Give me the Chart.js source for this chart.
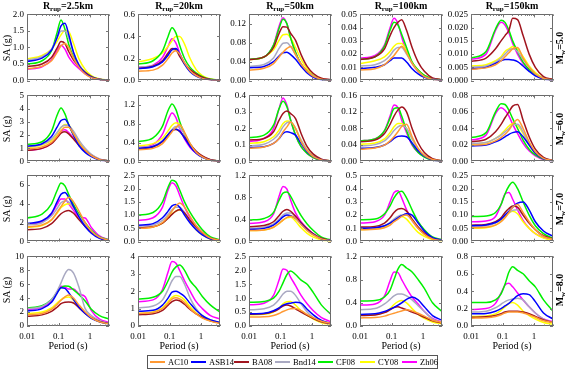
<!DOCTYPE html>
<html>
<head>
<meta charset="utf-8">
<script src="https://cdn.jsdelivr.net/npm/chart.js@4.4.1/dist/chart.umd.min.js"></script>
<style>
  html, body { margin: 0; padding: 0; background: #fff; }
  body { width: 567px; height: 371px; position: relative; overflow: hidden; font-family: "Liberation Serif", "Times New Roman", serif; color: #000; }
  canvas { position: absolute; }
  .txt { position: absolute; white-space: nowrap; line-height: 1; }
  .coltitle { font-weight: bold; font-size: 10px; transform: translateX(-50%); }
  .coltitle sub, .mlab sub { font-size: 7px; vertical-align: -2px; }
  .ylab { font-size: 10px; transform: translate(-50%, -50%) rotate(-90deg); }
  .mlab { font-weight: bold; font-size: 10px; transform: translate(-50%, -50%) rotate(-90deg); }
  .xlab { font-size: 10px; transform: translateX(-50%); }
  #legend { position: absolute; left: 147px; top: 355px; width: 291px; height: 14px; border: 1px solid #555; box-sizing: border-box; }
  .litem { position: absolute; top: 0; height: 12px; display: flex; align-items: center; font-size: 8.5px; white-space: nowrap; }
  .lline { width: 15px; height: 1.5px; margin-right: 3px; flex: none; }
</style>
</head>
<body>
<script>
// ---- data ----
const periods = [0.01, 0.03, 0.06, 0.09, 0.12, 0.16, 0.21, 0.3, 0.45, 0.7, 1.1, 2, 4];
const xTickValues = [0.01, 0.1, 1];
const models = ['AC10', 'ASB14', 'BA08', 'Bnd14', 'CF08', 'CY08', 'Zh06'];
const magnitudes = ['5.0', '6.0', '7.0', '8.0'];
const distances = ['2.5', '20', '50', '100', '150'];
const yMax = [[2, 0.6, 0.14, 0.05, 0.025], [5, 1.4, 0.4, 0.16, 0.08], [7, 2.5, 1.2, 0.5, 0.25], [10, 4, 2.5, 1.2, 0.8]];
const yStep = [[0.5, 0.1, 0.02, 0.01, 0.005], [1, 0.2, 0.1, 0.02, 0.02], [1, 0.5, 0.2, 0.1, 0.05], [2, 1, 0.5, 0.2, 0.2]];

// each model: 20 panels, order Mw5.0 (R 2.5,20,50,100,150), Mw6.0 ..., Mw7.0 ..., Mw8.0 ...
const AC10 = [
  [0.36,0.43,0.6,0.85,1.05,1.12,1.0,0.68,0.4,0.2,0.09,0.03,0.01],
  [0.085,0.095,0.14,0.2,0.25,0.27,0.24,0.16,0.09,0.045,0.02,0.007,0.002],
  [0.022,0.026,0.036,0.05,0.06,0.068,0.072,0.055,0.035,0.02,0.009,0.003,0.001],
  [0.008,0.009,0.012,0.016,0.019,0.023,0.026,0.021,0.013,0.007,0.003,0.001,0.0004],
  [0.0043,0.0048,0.006,0.0075,0.009,0.0105,0.012,0.0125,0.0085,0.005,0.0025,0.0008,0.0003],
  [0.95,1.1,1.45,1.9,2.3,2.6,2.6,2.1,1.4,0.85,0.45,0.15,0.04],
  [0.25,0.28,0.38,0.52,0.63,0.72,0.78,0.62,0.38,0.2,0.1,0.03,0.01],
  [0.08,0.088,0.11,0.14,0.18,0.21,0.24,0.2,0.12,0.065,0.03,0.01,0.003],
  [0.03,0.033,0.04,0.05,0.06,0.072,0.085,0.09,0.06,0.032,0.015,0.005,0.0015],
  [0.02,0.021,0.025,0.029,0.033,0.038,0.045,0.051,0.04,0.024,0.012,0.004,0.0012],
  [1.55,1.75,2.3,3.1,3.7,4.3,4.7,4.2,3.2,2.0,1.1,0.45,0.15],
  [0.5,0.55,0.72,0.95,1.15,1.35,1.46,1.3,0.95,0.6,0.35,0.13,0.05],
  [0.2,0.21,0.26,0.33,0.39,0.44,0.46,0.42,0.31,0.2,0.12,0.05,0.015],
  [0.09,0.093,0.105,0.125,0.15,0.17,0.19,0.2,0.16,0.1,0.055,0.02,0.008],
  [0.052,0.054,0.062,0.075,0.09,0.11,0.13,0.14,0.11,0.075,0.045,0.02,0.008],
  [1.6,1.8,2.4,3.1,3.7,4.2,4.45,4.0,3.0,2.0,1.2,0.6,0.3],
  [0.72,0.78,1.0,1.3,1.55,1.62,1.55,1.35,1.0,0.7,0.45,0.28,0.15],
  [0.32,0.33,0.38,0.45,0.52,0.58,0.62,0.63,0.55,0.42,0.3,0.17,0.1],
  [0.14,0.145,0.17,0.2,0.22,0.24,0.26,0.28,0.26,0.22,0.17,0.1,0.06],
  [0.09,0.095,0.11,0.13,0.15,0.16,0.16,0.16,0.15,0.13,0.1,0.06,0.04]
];
const ASB14 = [
  [0.58,0.68,0.92,1.3,1.65,1.73,1.4,0.85,0.45,0.22,0.1,0.03,0.01],
  [0.11,0.125,0.17,0.23,0.28,0.29,0.24,0.15,0.08,0.04,0.02,0.007,0.002],
  [0.027,0.03,0.04,0.052,0.059,0.06,0.055,0.045,0.03,0.016,0.007,0.002,0.001],
  [0.009,0.01,0.012,0.015,0.017,0.017,0.017,0.014,0.009,0.005,0.0025,0.001,0.0003],
  [0.0045,0.005,0.0065,0.0075,0.008,0.008,0.0078,0.0072,0.0055,0.0035,0.0018,0.0006,0.0002],
  [1.15,1.35,1.9,2.6,3.1,3.2,2.8,2.0,1.2,0.7,0.38,0.12,0.04],
  [0.28,0.32,0.43,0.57,0.66,0.69,0.64,0.5,0.32,0.18,0.09,0.03,0.008],
  [0.085,0.09,0.11,0.14,0.17,0.18,0.175,0.16,0.11,0.06,0.03,0.01,0.003],
  [0.032,0.034,0.04,0.048,0.056,0.061,0.062,0.06,0.045,0.026,0.013,0.004,0.0012],
  [0.019,0.02,0.024,0.027,0.03,0.033,0.035,0.036,0.03,0.02,0.01,0.0035,0.001],
  [1.9,2.2,3.0,4.2,5.0,5.2,4.7,3.7,2.6,1.6,0.9,0.35,0.12],
  [0.62,0.68,0.9,1.15,1.35,1.4,1.3,1.0,0.7,0.45,0.25,0.1,0.04],
  [0.22,0.24,0.3,0.38,0.45,0.48,0.47,0.42,0.32,0.21,0.13,0.05,0.02],
  [0.1,0.105,0.12,0.14,0.16,0.18,0.195,0.21,0.2,0.14,0.08,0.03,0.012],
  [0.06,0.063,0.072,0.085,0.1,0.115,0.13,0.145,0.15,0.12,0.075,0.04,0.02],
  [2.15,2.5,3.4,4.7,5.5,5.4,4.8,3.8,2.7,1.8,1.1,0.6,0.3],
  [0.85,0.9,1.2,1.6,1.95,2.0,1.9,1.7,1.3,0.9,0.6,0.35,0.2],
  [0.44,0.46,0.55,0.65,0.75,0.8,0.82,0.85,0.82,0.6,0.4,0.2,0.1],
  [0.2,0.21,0.25,0.29,0.32,0.36,0.4,0.46,0.5,0.45,0.33,0.18,0.1],
  [0.14,0.145,0.17,0.2,0.23,0.26,0.3,0.35,0.37,0.36,0.28,0.15,0.08]
];
const BA08 = [
  [0.42,0.5,0.7,0.98,1.18,1.12,0.88,0.62,0.42,0.25,0.12,0.04,0.01],
  [0.11,0.13,0.18,0.25,0.29,0.28,0.22,0.15,0.1,0.06,0.03,0.01,0.003],
  [0.044,0.05,0.07,0.1,0.114,0.113,0.1,0.085,0.055,0.03,0.015,0.005,0.002],
  [0.016,0.018,0.024,0.034,0.04,0.044,0.046,0.038,0.025,0.014,0.007,0.002,0.0008],
  [0.0072,0.0085,0.012,0.015,0.017,0.019,0.0235,0.023,0.017,0.01,0.005,0.0015,0.0005],
  [0.85,1.0,1.35,1.8,2.15,2.25,2.1,1.7,1.2,0.8,0.45,0.15,0.05],
  [0.27,0.31,0.42,0.56,0.65,0.68,0.64,0.52,0.36,0.22,0.12,0.04,0.012],
  [0.13,0.14,0.18,0.25,0.29,0.305,0.29,0.26,0.17,0.09,0.045,0.015,0.005],
  [0.048,0.052,0.068,0.09,0.11,0.125,0.132,0.12,0.08,0.045,0.022,0.007,0.002],
  [0.024,0.027,0.036,0.045,0.053,0.06,0.067,0.069,0.05,0.03,0.015,0.005,0.0015],
  [1.25,1.4,1.9,2.5,2.95,3.2,3.3,3.0,2.3,1.6,1.0,0.4,0.13],
  [0.52,0.56,0.7,0.88,1.03,1.15,1.2,1.08,0.8,0.55,0.33,0.13,0.05],
  [0.27,0.29,0.36,0.47,0.55,0.58,0.55,0.46,0.34,0.23,0.14,0.06,0.02],
  [0.11,0.115,0.14,0.18,0.22,0.245,0.25,0.23,0.17,0.11,0.065,0.025,0.01],
  [0.062,0.065,0.075,0.09,0.11,0.125,0.134,0.13,0.1,0.07,0.045,0.022,0.01],
  [1.4,1.6,2.1,2.7,3.2,3.4,3.45,3.3,2.6,1.8,1.2,0.65,0.35],
  [0.65,0.7,0.9,1.2,1.4,1.5,1.45,1.25,0.95,0.7,0.5,0.3,0.18],
  [0.42,0.44,0.52,0.62,0.72,0.75,0.72,0.62,0.5,0.38,0.27,0.15,0.08],
  [0.18,0.19,0.23,0.28,0.32,0.33,0.31,0.28,0.24,0.2,0.15,0.09,0.05],
  [0.1,0.105,0.12,0.14,0.16,0.17,0.17,0.17,0.16,0.14,0.11,0.07,0.04]
];
const Bnd14 = [
  [0.62,0.72,0.95,1.28,1.5,1.5,1.28,0.85,0.48,0.26,0.12,0.04,0.015],
  [0.12,0.135,0.18,0.24,0.28,0.28,0.24,0.16,0.09,0.05,0.025,0.008,0.003],
  [0.03,0.034,0.048,0.068,0.079,0.08,0.072,0.055,0.035,0.02,0.01,0.003,0.001],
  [0.011,0.012,0.015,0.019,0.023,0.025,0.025,0.02,0.013,0.007,0.003,0.001,0.0004],
  [0.005,0.0055,0.007,0.0085,0.01,0.0115,0.012,0.011,0.008,0.005,0.0025,0.001,0.0003],
  [1.1,1.3,1.7,2.2,2.6,2.75,2.7,2.3,1.6,1.0,0.55,0.2,0.06],
  [0.3,0.33,0.45,0.58,0.68,0.74,0.72,0.58,0.38,0.22,0.11,0.04,0.012],
  [0.095,0.105,0.135,0.17,0.21,0.235,0.24,0.2,0.13,0.07,0.035,0.012,0.004],
  [0.038,0.041,0.05,0.063,0.075,0.084,0.087,0.08,0.055,0.03,0.015,0.005,0.0015],
  [0.022,0.023,0.028,0.032,0.036,0.04,0.044,0.045,0.036,0.022,0.011,0.004,0.0012],
  [1.75,2.0,2.7,3.5,4.1,4.3,4.2,3.6,2.7,1.8,1.1,0.45,0.15],
  [0.58,0.63,0.8,1.02,1.2,1.3,1.3,1.1,0.8,0.5,0.3,0.12,0.04],
  [0.24,0.26,0.32,0.41,0.48,0.52,0.52,0.45,0.33,0.22,0.13,0.05,0.02],
  [0.1,0.105,0.12,0.145,0.17,0.19,0.2,0.2,0.16,0.1,0.06,0.025,0.01],
  [0.058,0.06,0.07,0.085,0.1,0.11,0.118,0.12,0.1,0.07,0.045,0.02,0.008],
  [2.5,2.8,3.8,5.0,6.2,7.5,8.1,7.6,5.5,2.5,1.5,0.8,0.4],
  [1.05,1.15,1.5,2.1,2.6,2.85,2.85,2.4,1.6,1.0,0.6,0.35,0.2],
  [0.58,0.62,0.75,0.95,1.15,1.25,1.25,1.1,0.8,0.5,0.3,0.15,0.08],
  [0.28,0.3,0.38,0.46,0.52,0.55,0.55,0.52,0.45,0.35,0.25,0.12,0.06],
  [0.16,0.17,0.21,0.25,0.28,0.3,0.31,0.32,0.3,0.22,0.15,0.08,0.04]
];
const CF08 = [
  [0.5,0.6,0.9,1.45,1.83,1.55,1.1,0.72,0.45,0.26,0.13,0.04,0.01],
  [0.15,0.18,0.27,0.4,0.48,0.43,0.32,0.2,0.12,0.07,0.035,0.012,0.004],
  [0.045,0.05,0.075,0.11,0.13,0.12,0.09,0.06,0.035,0.02,0.01,0.003,0.001],
  [0.016,0.018,0.026,0.038,0.044,0.042,0.035,0.025,0.014,0.008,0.004,0.0015,0.0005],
  [0.0085,0.011,0.0195,0.0228,0.022,0.019,0.015,0.011,0.007,0.0042,0.0022,0.0008,0.0003],
  [1.3,1.5,2.3,3.5,4.05,3.6,2.8,2.0,1.3,0.8,0.45,0.15,0.05],
  [0.42,0.5,0.75,1.08,1.22,1.1,0.85,0.58,0.35,0.2,0.1,0.035,0.01],
  [0.145,0.16,0.22,0.32,0.365,0.33,0.25,0.16,0.09,0.05,0.025,0.008,0.003],
  [0.05,0.055,0.075,0.105,0.128,0.13,0.11,0.075,0.042,0.022,0.011,0.004,0.0015],
  [0.029,0.035,0.06,0.07,0.069,0.062,0.052,0.04,0.026,0.015,0.008,0.003,0.001],
  [2.5,2.9,4.0,5.4,6.2,5.9,5.0,3.9,2.9,2.0,1.2,0.5,0.2],
  [1.0,1.1,1.5,2.05,2.32,2.25,1.95,1.5,1.1,0.75,0.45,0.18,0.07],
  [0.39,0.42,0.53,0.75,0.88,0.9,0.82,0.65,0.47,0.32,0.2,0.08,0.03],
  [0.165,0.17,0.21,0.27,0.33,0.37,0.38,0.33,0.24,0.15,0.09,0.035,0.015],
  [0.095,0.097,0.11,0.14,0.18,0.21,0.224,0.2,0.15,0.1,0.06,0.03,0.012],
  [2.6,2.9,3.8,4.8,5.5,5.75,5.7,5.2,4.5,3.6,2.4,1.5,1.0],
  [1.55,1.65,2.0,2.6,3.1,3.4,3.5,3.2,2.6,2.2,1.7,1.2,0.8],
  [0.85,0.88,1.0,1.25,1.55,1.85,1.98,1.85,1.65,1.5,1.2,0.75,0.42],
  [0.43,0.44,0.5,0.62,0.8,0.98,1.06,1.0,0.93,0.8,0.65,0.4,0.25],
  [0.27,0.27,0.3,0.37,0.48,0.62,0.68,0.64,0.6,0.52,0.45,0.3,0.17]
];
const CY08 = [
  [0.65,0.76,0.95,1.18,1.38,1.52,1.48,1.12,0.65,0.34,0.15,0.05,0.015],
  [0.17,0.2,0.25,0.31,0.36,0.4,0.4,0.33,0.2,0.1,0.045,0.015,0.004],
  [0.044,0.05,0.065,0.085,0.097,0.098,0.09,0.07,0.045,0.025,0.012,0.004,0.001],
  [0.013,0.015,0.018,0.022,0.026,0.028,0.028,0.022,0.014,0.008,0.004,0.0015,0.0005],
  [0.0055,0.006,0.0075,0.009,0.011,0.012,0.0128,0.012,0.009,0.0055,0.003,0.001,0.0003],
  [1.05,1.25,1.6,2.1,2.55,2.8,2.75,2.2,1.5,0.9,0.5,0.17,0.05],
  [0.33,0.38,0.5,0.65,0.77,0.82,0.78,0.6,0.38,0.2,0.1,0.035,0.01],
  [0.11,0.12,0.15,0.19,0.23,0.245,0.24,0.2,0.13,0.07,0.035,0.012,0.004],
  [0.042,0.045,0.055,0.07,0.084,0.092,0.092,0.08,0.055,0.03,0.015,0.005,0.0015],
  [0.021,0.023,0.028,0.033,0.038,0.043,0.046,0.044,0.034,0.02,0.01,0.0035,0.001],
  [1.5,1.7,2.3,3.0,3.6,3.9,4.0,3.6,2.7,1.7,1.0,0.4,0.12],
  [0.5,0.55,0.7,0.9,1.05,1.15,1.2,1.05,0.75,0.45,0.25,0.09,0.03],
  [0.2,0.21,0.26,0.33,0.39,0.43,0.44,0.37,0.25,0.15,0.08,0.03,0.01],
  [0.09,0.095,0.11,0.14,0.16,0.18,0.19,0.17,0.12,0.07,0.04,0.015,0.006],
  [0.05,0.052,0.062,0.078,0.095,0.108,0.115,0.105,0.075,0.05,0.03,0.013,0.005],
  [1.8,2.0,2.6,3.3,3.8,4.1,4.15,3.7,2.8,1.9,1.2,0.6,0.3],
  [0.72,0.8,1.05,1.4,1.65,1.75,1.7,1.5,1.1,0.75,0.5,0.3,0.18],
  [0.4,0.42,0.5,0.65,0.8,0.87,0.88,0.75,0.55,0.38,0.25,0.12,0.06],
  [0.19,0.2,0.24,0.3,0.37,0.42,0.44,0.4,0.3,0.2,0.13,0.07,0.04],
  [0.11,0.115,0.14,0.18,0.22,0.26,0.27,0.24,0.17,0.12,0.08,0.04,0.02]
];
const Zh06 = [
  [0.34,0.42,0.62,0.9,1.07,0.95,0.72,0.52,0.36,0.2,0.1,0.03,0.01],
  [0.12,0.14,0.21,0.31,0.38,0.34,0.25,0.16,0.1,0.06,0.03,0.01,0.003],
  [0.045,0.05,0.075,0.115,0.133,0.12,0.09,0.06,0.035,0.02,0.01,0.004,0.001],
  [0.017,0.019,0.027,0.04,0.047,0.043,0.033,0.022,0.013,0.007,0.004,0.0015,0.0005],
  [0.008,0.01,0.019,0.022,0.021,0.018,0.014,0.01,0.0065,0.004,0.002,0.0008,0.0003],
  [0.85,1.0,1.4,1.9,2.3,2.4,2.2,1.8,1.3,0.85,0.5,0.18,0.05],
  [0.3,0.36,0.58,0.88,1.03,0.93,0.7,0.48,0.3,0.18,0.1,0.035,0.01],
  [0.12,0.14,0.2,0.32,0.385,0.34,0.25,0.16,0.09,0.05,0.025,0.008,0.003],
  [0.05,0.055,0.075,0.11,0.137,0.13,0.1,0.07,0.04,0.022,0.012,0.004,0.0015],
  [0.026,0.032,0.058,0.065,0.062,0.055,0.045,0.034,0.022,0.013,0.007,0.0025,0.001],
  [1.85,2.1,2.9,3.9,4.5,4.5,4.0,3.3,2.6,2.5,1.5,0.6,0.2],
  [0.8,0.9,1.3,1.95,2.22,2.1,1.75,1.3,0.9,0.6,0.35,0.14,0.05],
  [0.33,0.36,0.5,0.82,1.0,0.95,0.75,0.52,0.36,0.24,0.14,0.06,0.02],
  [0.14,0.15,0.2,0.3,0.37,0.385,0.33,0.24,0.16,0.1,0.06,0.025,0.01],
  [0.075,0.078,0.095,0.14,0.18,0.185,0.16,0.12,0.08,0.05,0.03,0.015,0.006],
  [2.4,2.7,3.6,4.9,5.7,5.6,5.3,5.3,4.6,4.2,2.2,1.0,0.5],
  [1.4,1.5,2.1,3.1,3.7,3.6,3.2,2.6,2.0,1.4,1.0,0.6,0.4],
  [0.76,0.82,1.1,1.65,2.05,2.0,1.75,1.45,1.1,0.8,0.55,0.3,0.15],
  [0.36,0.38,0.52,0.78,0.93,0.92,0.8,0.65,0.5,0.38,0.25,0.13,0.07],
  [0.19,0.2,0.26,0.38,0.47,0.49,0.45,0.38,0.3,0.22,0.15,0.08,0.05]
];
const seriesByModel = [AC10, ASB14, BA08, Bnd14, CF08, CY08, Zh06];

// ---- styles / layout ----
const modelColors = ['#FF9933', '#0000FF', '#A0141E', '#A9A9C2', '#00F000', '#FFFF00', '#FF00FF'];
const boxLeft = [27, 138, 249, 360, 471];
const boxTop = [12, 93, 173, 254];
const boxH = [71, 71, 71, 72];
const boxW = 82;
const yAxisW = 27, padT = 6, padR = 6, padB = 6, xAxisH = 18;
const legendItemLeft = [2, 43, 86, 127, 170, 212, 254];
const FONT = "'Liberation Serif', 'Times New Roman', serif";

function decimalsOf(step) {
  const s = String(step);
  return s.includes('.') ? s.split('.')[1].length : 0;
}

const framePlugin = {
  id: 'frame',
  afterDatasetsDraw(chart) {
    const { ctx, chartArea: a, scales } = chart;
    const x = scales.x, y = scales.y;
    ctx.save();
    ctx.strokeStyle = '#6a6a6a';
    ctx.lineWidth = 1;
    ctx.strokeRect(Math.round(a.left) + 0.5, Math.round(a.top) + 0.5, Math.round(a.right - a.left) - 1, Math.round(a.bottom - a.top) - 1);
    ctx.strokeStyle = '#777';
    ctx.beginPath();
    for (const d of xTickValues) {
      for (let m = 1; m < 10; m++) {
        const v = d * m;
        if (v > x.max) break;
        const px = Math.round(x.getPixelForValue(v)) + 0.5;
        const L = m === 1 ? 3 : 1.5;
        ctx.moveTo(px, a.top); ctx.lineTo(px, a.top + L);
        ctx.moveTo(px, a.bottom); ctx.lineTo(px, a.bottom - L);
      }
    }
    y.ticks.forEach(t => {
      const py = Math.round(y.getPixelForValue(t.value)) + 0.5;
      ctx.moveTo(a.left, py); ctx.lineTo(a.left + 3, py);
      ctx.moveTo(a.right, py); ctx.lineTo(a.right - 3, py);
    });
    ctx.stroke();
    ctx.restore();
  }
};

function addText(cls, html, left, top) {
  const d = document.createElement('div');
  d.className = 'txt ' + cls;
  d.innerHTML = html;
  d.style.left = left + 'px';
  d.style.top = top + 'px';
  document.body.appendChild(d);
  return d;
}

for (let r = 0; r < 4; r++) {
  for (let c = 0; c < 5; c++) {
    const p = r * 5 + c;
    const bottomRow = r === 3;
    const cv = document.createElement('canvas');
    const W = yAxisW + boxW + padR;
    const H = padT + boxH[r] + (bottomRow ? xAxisH : padB);
    cv.width = W; cv.height = H;
    cv.style.width = W + 'px'; cv.style.height = H + 'px';
    cv.style.left = (boxLeft[c] - yAxisW) + 'px';
    cv.style.top = (boxTop[r] - padT) + 'px';
    document.body.appendChild(cv);
    const dec = decimalsOf(yStep[r][c]);
    new Chart(cv, {
      type: 'line',
      data: {
        datasets: models.map((m, i) => ({
          label: m,
          data: periods.map((t, k) => ({ x: t, y: seriesByModel[i][p][k] })),
          borderColor: modelColors[i],
          borderWidth: 1.5,
          pointRadius: 0,
          fill: false,
          cubicInterpolationMode: 'monotone'
        }))
      },
      options: {
        responsive: false,
        animation: false,
        devicePixelRatio: 1,
        events: [],
        layout: { padding: { left: 0, top: padT, right: padR, bottom: bottomRow ? 0 : padB } },
        plugins: { legend: { display: false }, tooltip: { enabled: false } },
        scales: {
          x: {
            type: 'logarithmic',
            min: 0.01,
            max: 4,
            afterBuildTicks(s) { s.ticks = xTickValues.map(v => ({ value: v, major: true })); },
            afterFit(s) { s.height = bottomRow ? xAxisH : 0; },
            grid: { display: false, drawTicks: false },
            border: { display: false },
            ticks: {
              display: bottomRow,
              autoSkip: false,
              maxRotation: 0,
              padding: 5,
              color: '#000',
              font: { family: FONT, size: 9 },
              callback: v => String(v)
            }
          },
          y: {
            type: 'linear',
            min: 0,
            max: yMax[r][c],
            afterFit(s) { s.width = yAxisW; },
            grid: { display: false, drawTicks: false },
            border: { display: false },
            ticks: {
              stepSize: yStep[r][c],
              padding: 3,
              color: '#000',
              font: { family: FONT, size: 9 },
              callback: v => Number(v).toFixed(dec)
            }
          }
        }
      },
      plugins: [framePlugin]
    });
  }
}

// column titles
distances.forEach((d, c) => {
  addText('coltitle', 'R<sub>rup</sub>=' + d + 'km', boxLeft[c] + boxW / 2, 1);
});
// row labels
magnitudes.forEach((m, r) => {
  addText('ylab', 'SA (g)', 7, boxTop[r] + boxH[r] / 2);
  addText('mlab', 'M<sub>w</sub>=' + m, 561, boxTop[r] + boxH[r] / 2);
});
// x labels
distances.forEach((d, c) => {
  addText('xlab', 'Period (s)', boxLeft[c] + boxW / 2, 341);
});
// legend
const lg = document.createElement('div');
lg.id = 'legend';
models.forEach((m, i) => {
  const it = document.createElement('div');
  it.className = 'litem';
  it.style.left = legendItemLeft[i] + 'px';
  const ln = document.createElement('span');
  ln.className = 'lline';
  ln.style.background = modelColors[i];
  const tx = document.createElement('span');
  tx.textContent = m;
  it.appendChild(ln); it.appendChild(tx);
  lg.appendChild(it);
});
document.body.appendChild(lg);
</script>
</body>
</html>
